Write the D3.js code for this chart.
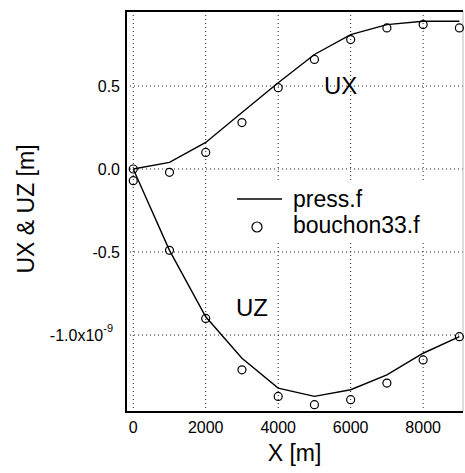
<!DOCTYPE html>
<html>
<head>
<meta charset="utf-8">
<script src="https://cdn.jsdelivr.net/npm/d3@7"></script>
<style>
body{margin:0;background:#fff;}
text{font-family:"Liberation Sans",Arial,sans-serif;fill:#000;}
</style>
</head>
<body>
<div id="chart"></div>
<script>
// data (UX/UZ in units of 1e-9 m)
var xs=[0,1000,2000,3000,4000,5000,6000,7000,8000,9000];
var uxPress=[0,0.04,0.16,0.34,0.52,0.69,0.81,0.87,0.89,0.89];
var uzPress=[0,-0.49,-0.89,-1.14,-1.32,-1.37,-1.33,-1.24,-1.11,-1.01];
var uxBouchon=[0,-0.02,0.10,0.28,0.49,0.66,0.78,0.85,0.87,0.85];
var uzBouchon=[-0.07,-0.49,-0.90,-1.21,-1.37,-1.42,-1.39,-1.29,-1.15,-1.01];
var xTicks=[0,2000,4000,6000,8000];
var yTicks=[0.5,0.0,-0.5,-1.0];
var yTickLabels=["0.5","0.0","-0.5","-1.0x10"];
var legendNames=["press.f","bouchon33.f"];

var W=465,H=473;
var box={left:126,right:463,top:11,bottom:412};

var svg=d3.select("#chart").append("svg").attr("width",W).attr("height",H);
var x=d3.scaleLinear().domain([-200,9100]).range([box.left,box.right]);
var y=d3.scaleLinear().domain([-1.464,0.952]).range([box.bottom,box.top]);

// dotted grid
var grid=svg.append("g").attr("class","grid");
grid.selectAll("line.gx").data(xTicks).enter().append("line").attr("class","gx")
    .attr("x1",function(d){return x(d);}).attr("x2",function(d){return x(d);})
    .attr("y1",box.top).attr("y2",box.bottom)
    .attr("style","stroke:#222;stroke-width:1px;stroke-dasharray:1,3");
grid.selectAll("line.gy").data(yTicks).enter().append("line").attr("class","gy")
    .attr("x1",box.left).attr("x2",box.right)
    .attr("y1",function(d){return y(d);}).attr("y2",function(d){return y(d);})
    .attr("style","stroke:#222;stroke-width:1px;stroke-dasharray:1,3");

// frame
svg.append("line").attr("x1",box.right).attr("x2",box.right).attr("y1",box.top).attr("y2",box.bottom)
    .attr("style","stroke:#bbb;stroke-width:1px");
svg.append("line").attr("x1",box.left).attr("x2",box.right).attr("y1",box.top).attr("y2",box.top)
    .attr("style","stroke:#000;stroke-width:2px");
svg.append("line").attr("x1",box.left).attr("x2",box.right).attr("y1",box.bottom).attr("y2",box.bottom)
    .attr("style","stroke:#000;stroke-width:2px");
svg.append("line").attr("x1",box.left).attr("x2",box.left).attr("y1",box.top-1).attr("y2",box.bottom+1)
    .attr("style","stroke:#000;stroke-width:2px");

// tick labels
svg.selectAll("text.xt").data(xTicks).enter().append("text").attr("class","xt")
    .attr("x",function(d){return x(d);}).attr("y",433)
    .attr("text-anchor","middle").style("font-size","16px")
    .text(function(d){return d;});
var yt=svg.selectAll("text.yt").data(yTicks).enter().append("text").attr("class","yt")
    .attr("x",function(d,i){return i==3?113:120;}).attr("y",function(d){return y(d)+6;})
    .attr("text-anchor","end").style("font-size","16px")
    .text(function(d,i){return yTickLabels[i];});
yt.filter(function(d,i){return i==3;}).append("tspan")
    .attr("dy",-9).style("font-size","11px").text("-9");

// axis titles
svg.append("text").attr("x",(box.left+box.right)/2).attr("y",461)
    .attr("text-anchor","middle").style("font-size","23px").text("X [m]");
svg.append("text").attr("transform","translate(34,209) rotate(-90)")
    .attr("text-anchor","middle").style("font-size","23px").text("UX & UZ [m]");

// press.f lines
var line=d3.line().x(function(d,i){return x(xs[i]);}).y(function(d){return y(d);});
[uxPress,uzPress].forEach(function(s){
    svg.append("path").attr("d",line(s))
        .attr("style","fill:none;stroke:#000;stroke-width:1.4px");
});

// bouchon33.f circles
[uxBouchon,uzBouchon].forEach(function(s,k){
    svg.selectAll("circle.b"+k).data(s).enter().append("circle").attr("class","b"+k)
        .attr("cx",function(d,i){return x(xs[i]);}).attr("cy",function(d){return y(d);})
        .attr("r",4).attr("style","fill:none;stroke:#000;stroke-width:1.2px");
});

// curve labels
svg.append("text").attr("x",324).attr("y",94).style("font-size","24px").text("UX");
svg.append("text").attr("x",236).attr("y",316).style("font-size","24px").text("UZ");

// legend
var lg=svg.append("g").attr("class","legend");
lg.append("rect").attr("x",228).attr("y",182).attr("width",210).attr("height",58).attr("fill","#fff");
lg.append("line").attr("x1",237).attr("x2",282).attr("y1",199).attr("y2",199)
    .attr("style","stroke:#000;stroke-width:1.5px");
lg.append("circle").attr("cx",257).attr("cy",227).attr("r",5)
    .attr("style","fill:none;stroke:#000;stroke-width:1.2px");
lg.selectAll("text").data(legendNames).enter().append("text")
    .attr("x",293).attr("y",function(d,i){return 207+i*26;})
    .style("font-size","23px").text(function(d){return d;});
</script>
</body>
</html>
